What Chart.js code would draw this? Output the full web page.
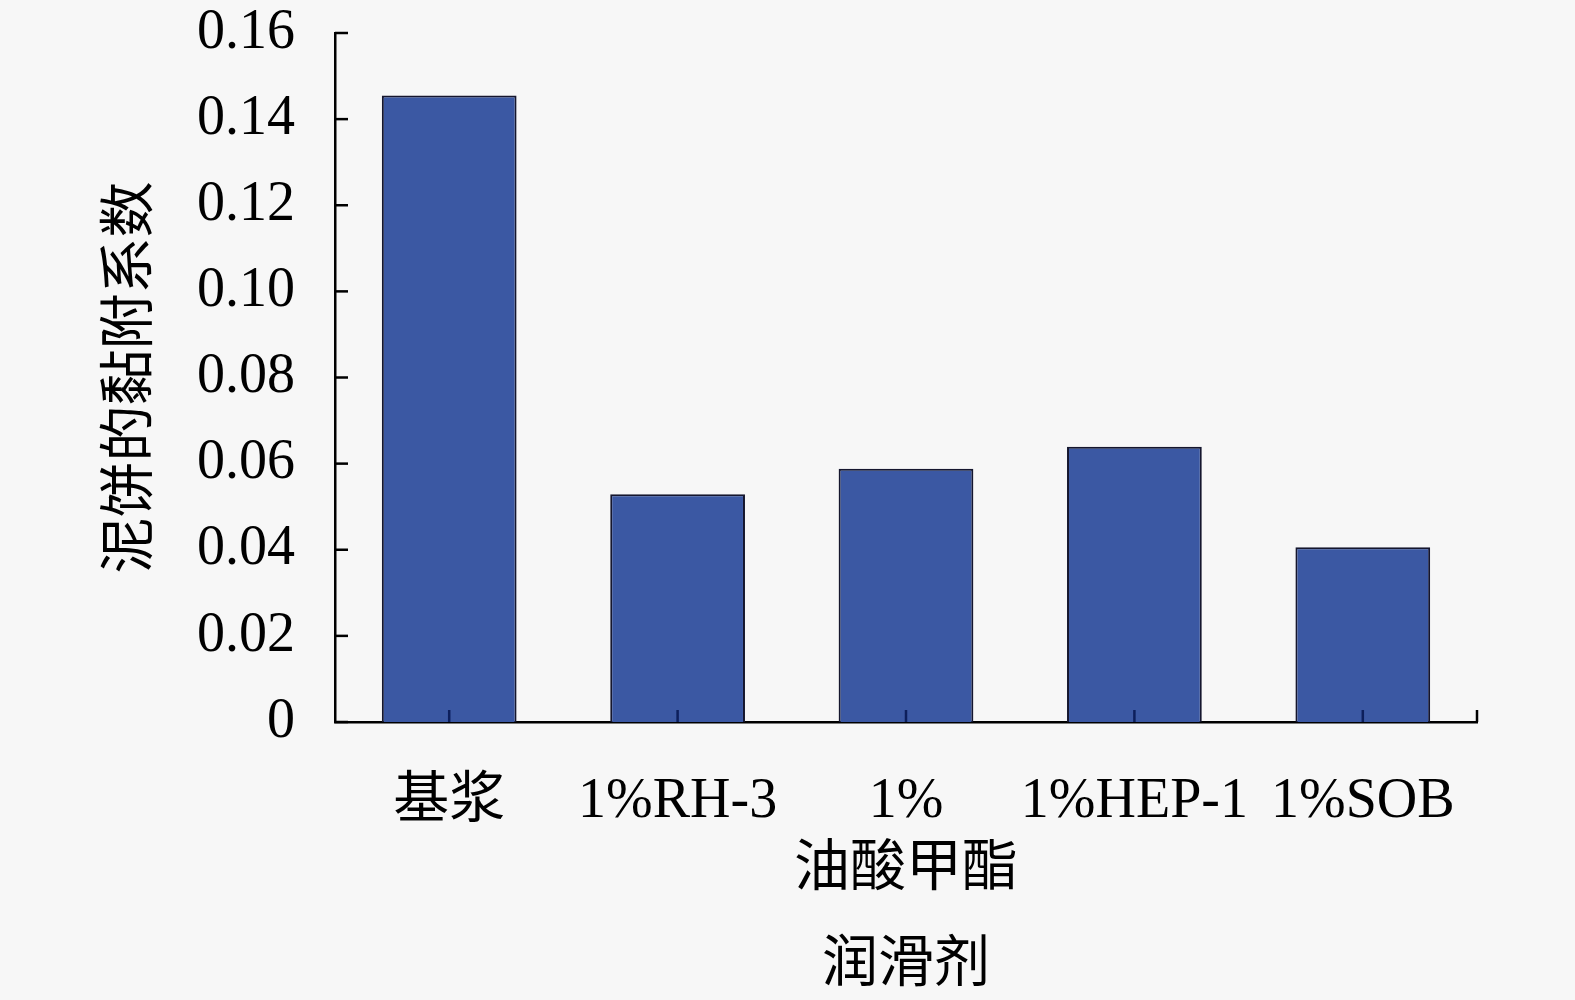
<!DOCTYPE html>
<html>
<head>
<meta charset="utf-8">
<script src="https://cdn.jsdelivr.net/npm/chart.js@4"></script>
<style>
  html, body { margin: 0; padding: 0; background: #f7f7f7; }
  #wrap { width: 1575px; height: 1000px; }
</style>
</head>
<body>
<div id="wrap"><canvas id="c" width="1575" height="1000"></canvas></div>
<script>
'use strict';

// ─── Data ─────────────────────────────────────────────────────────────────────
const categories = ['基浆', '1%RH-3', ['1%', '油酸甲酯'], '1%HEP-1', '1%SOB'];
const adhesion   = [0.1455, 0.0529, 0.0588, 0.0639, 0.0406];
const yTicks     = [0, 0.02, 0.04, 0.06, 0.08, 0.10, 0.12, 0.14, 0.16];

const SERIF = '"Liberation Serif", "Times New Roman", "Noto Sans CJK SC", serif';

// inward tick marks (y ticks point right, category ticks point up)
const inwardTicks = {
  id: 'inwardTicks',
  afterDatasetsDraw(chart) {
    const { ctx, chartArea, scales: { x, y } } = chart;
    ctx.save();
    ctx.lineWidth = 2.5;
    ctx.strokeStyle = '#000';
    yTicks.forEach(v => {
      const py = y.getPixelForValue(v);
      ctx.beginPath();
      ctx.moveTo(chartArea.left, py);
      ctx.lineTo(chartArea.left + 13, py);
      ctx.stroke();
    });
    ctx.strokeStyle = '#0d1f5c';
    categories.forEach((c, i) => {
      const px = x.getPixelForValue(i);
      ctx.beginPath();
      ctx.moveTo(px, chartArea.bottom);
      ctx.lineTo(px, chartArea.bottom - 12);
      ctx.stroke();
    });
    ctx.strokeStyle = '#000';
    ctx.beginPath();
    ctx.moveTo(chartArea.right, chartArea.bottom);
    ctx.lineTo(chartArea.right, chartArea.bottom - 12);
    ctx.stroke();
    ctx.restore();
  }
};

new Chart(document.getElementById('c'), {
  type: 'bar',
  data: {
    labels: categories,
    datasets: [{
      data: adhesion,
      backgroundColor: '#3b58a3',
      borderColor: '#15162e',
      borderWidth: { top: 2, left: 2, right: 2, bottom: 0 },
      borderSkipped: false,
      categoryPercentage: 1,
      barPercentage: 0.59,
    }]
  },
  options: {
    responsive: false,
    animation: false,
    layout: { padding: { left: 0, right: 98, top: 33, bottom: 0 } },
    plugins: { legend: { display: false }, tooltip: { enabled: false } },
    scales: {
      x: {
        grid: { display: false, drawTicks: false },
        border: { display: true, color: '#000', width: 2.5 },
        ticks: {
          color: '#000', padding: 47, font: { family: SERIF, size: 56 },
          maxRotation: 0, minRotation: 0, autoSkip: false
        },
        title: {
          display: true, text: '润滑剂', color: '#000',
          font: { family: SERIF, size: 56 }, padding: { top: 0, bottom: 0 }
        },
        afterFit: s => { s.height = 278; s.paddingLeft = 0; s.paddingRight = 0; }
      },
      y: {
        min: 0, max: 0.16,
        afterBuildTicks: s => { s.ticks = yTicks.map(v => ({ value: v })); },
        grid: { display: false, drawTicks: false },
        border: { display: true, color: '#000', width: 2.5 },
        ticks: {
          color: '#000', padding: 40, font: { family: SERIF, size: 56 },
          callback: v => v === 0 ? '0' : v.toFixed(2)
        },
        title: {
          display: true, text: '泥饼的黏附系数', color: '#000',
          font: { family: SERIF, size: 56 }, padding: { top: 99, bottom: 0 }
        },
        afterFit: s => { s.width = 335; s.paddingTop = 0; s.paddingBottom = 0; }
      }
    }
  },
  plugins: [inwardTicks]
});
</script>
</body>
</html>
